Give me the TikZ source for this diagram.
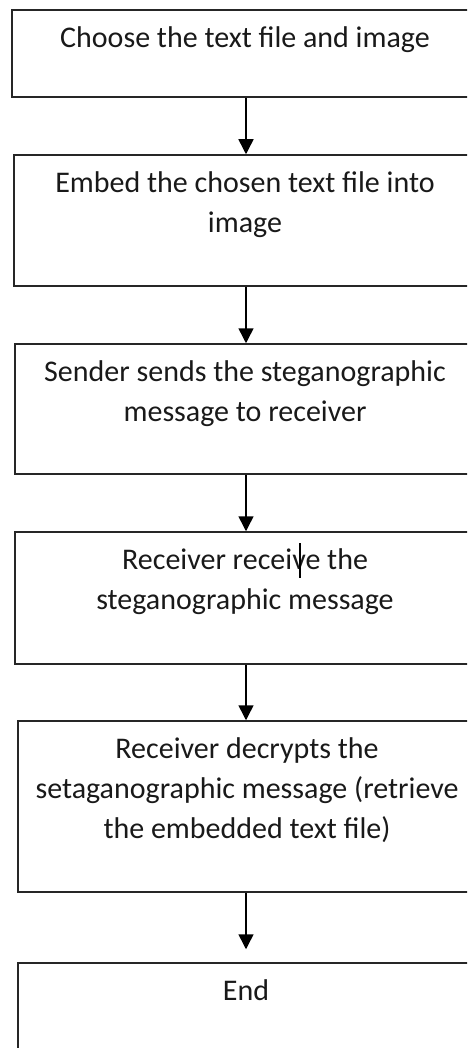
\documentclass[tikz,border=0pt]{standalone}
\usepackage{fontspec}
\setmainfont{Carlito}
\usetikzlibrary{arrows.meta}
\begin{document}
\begin{tikzpicture}[x=1pt,y=-1pt,
  stage/.style={draw=black!85, line width=1.5pt, inner sep=0pt, rectangle},
  caption/.style={anchor=north, inner sep=0pt, align=center,
    font=\fontsize{30}{40}\selectfont, text=black!90},
  flow/.style={draw=black, line width=1.5pt,
    -{Triangle[width=15pt,length=15pt]}}]
  \useasboundingbox (0,0) rectangle (467,1048);
  \clip (0,0) rectangle (467,1048);

  % process steps
  \node[stage, minimum width=468pt, minimum height=87pt]  (b1) at (246,53.5)  {};
  \node[stage, minimum width=464pt, minimum height=131pt] (b2) at (246,220.5) {};
  \node[stage, minimum width=462pt, minimum height=130pt] (b3) at (246,409)   {};
  \node[stage, minimum width=462pt, minimum height=132pt] (b4) at (246,598)   {};
  \node[stage, minimum width=456pt, minimum height=171pt] (b5) at (246,806.5) {};
  \node[stage, minimum width=456pt, minimum height=107pt] (b6) at (246,1016.5) {};

  % step texts, set from the top of each box
  \node[caption] (t1) at ([xshift=-1pt,yshift=-10pt]b1.north)
    {\strut Choose the text file and image};
  \node[caption] (t2) at ([xshift=-1pt,yshift=-10pt]b2.north)
    {\strut Embed the chosen text file into\\image};
  \node[caption] (t3) at ([xshift=-1pt,yshift=-10pt]b3.north)
    {\strut Sender sends the steganographic\\message to receiver};
  \node[caption] (t4) at ([xshift=-1pt,yshift=-10pt]b4.north)
    {\strut Receiver receive the\\steganographic message};
  \node[caption] (t5) at ([xshift=1pt,yshift=-10pt]b5.north)
    {\strut Receiver decrypts the\\setaganographic message (retrieve\\the embedded text file)};
  \node[caption] (t6) at ([yshift=-10pt]b6.north) {\strut End};

  % text cursor in the fourth step
  \draw[line width=2.5pt, black] (300,543) -- (300,578);

  % connectors
  \draw[flow] (b1.south) -- (b2.north);
  \draw[flow] (b2.south) -- (b3.north);
  \draw[flow] (b3.south) -- (b4.north);
  \draw[flow] (b4.south) -- (b5.north);
  \draw[flow, shorten >=13pt] (b5.south) -- (b6.north);
\end{tikzpicture}
\end{document}
